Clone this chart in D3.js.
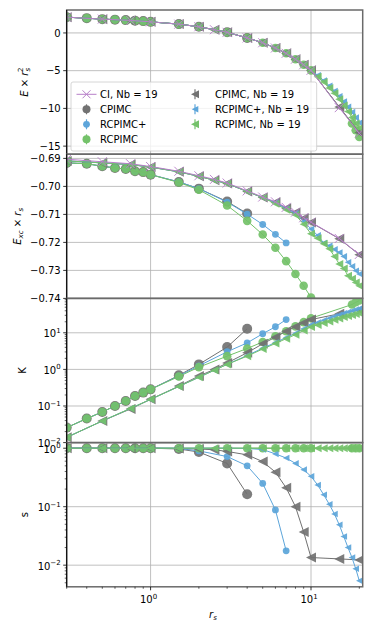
<!DOCTYPE html>
<html>
<head>
<meta charset="utf-8">
<script src="https://cdn.jsdelivr.net/npm/d3@7"></script>
<style>
body{margin:0;background:#fff;}
text{font-family:"DejaVu Sans",sans-serif;font-size:10px;fill:#000;}
</style>
</head>
<body>
<div id="chart"></div>
<script>
// x positions (r_s)
var xCI = [0.3,0.5,0.75,1,1.5,2,2.5,3,4,5,6,7,8,9,10,15,20];
var xCP = [0.3,0.4,0.5,0.6,0.7,0.8,0.9,1,1.5,2,3,4];
var xRCp = [0.3,0.4,0.5,0.6,0.7,0.8,0.9,1,1.5,2,3,4,5,6,7];
var xRC = [0.3,0.4,0.5,0.6,0.7,0.8,0.9,1,1.5,2,3,4,5,6,7,8,9,10,18,19,20];
var xCPnb = [0.3,0.5,0.75,1,1.5,2,2.5,3,4,5,6,7,8,9,10,15,20];
var xRCnb = [0.3,0.5,0.75,1,1.5,2,2.5,3,4,5,6,7,8,9,10,11,12,13,14,15,16,17,18,19,20];

// E x rs^2
var eCI = [2.09,1.83,1.66,1.47,1.17,0.82,0.43,0.08,-0.66,-1.3,-2.0,-2.7,-3.48,-4.22,-4.96,-9.9,-13.3];
var eCP = [2.09,1.96,1.83,1.76,1.7,1.63,1.57,1.47,1.17,0.82,0.08,-0.66];
var eRCp = [2.09,1.96,1.83,1.76,1.7,1.63,1.57,1.47,1.17,0.82,0.08,-0.66,-1.3,-2.0,-2.7];
var eRC = [2.09,1.96,1.83,1.76,1.7,1.63,1.57,1.47,1.17,0.82,0.08,-0.66,-1.3,-2.0,-2.7,-3.48,-4.22,-4.96,-12.0,-12.9,-13.8];
var eCPnb = [2.09,1.83,1.66,1.47,1.17,0.82,0.43,0.08,-0.66,-1.3,-2.0,-2.7,-3.48,-4.22,-4.96,-9.8,-13.2];
var eRCpnb = [2.09,1.83,1.66,1.47,1.17,0.82,0.43,0.08,-0.66,-1.3,-2.0,-2.7,-3.48,-4.22,-4.96,-5.6,-6.3,-7.0,-7.7,-8.4,-9.1,-9.8,-10.5,-11.2,-11.9];
var eRCnb = [2.09,1.83,1.66,1.47,1.17,0.82,0.43,0.08,-0.66,-1.3,-2.0,-2.7,-3.48,-4.22,-4.96,-5.8,-6.5,-7.3,-8.0,-8.8,-9.6,-10.4,-11.2,-12.0,-12.6];

// Exc x rs
var excCI = [-0.6903,-0.6912,-0.6919,-0.6929,-0.6946,-0.6962,-0.6975,-0.6988,-0.7016,-0.7038,-0.7055,-0.7075,-0.7092,-0.7112,-0.7128,-0.7186,-0.7243];
var excCP = [-0.6916,-0.6919,-0.6928,-0.6934,-0.6938,-0.6946,-0.6949,-0.6958,-0.6984,-0.7008,-0.7054,-0.7097];
var excRCp = [-0.6916,-0.6919,-0.6928,-0.6934,-0.6938,-0.6946,-0.6949,-0.6958,-0.6984,-0.7008,-0.7056,-0.7099,-0.7136,-0.7171,-0.7202];
var excRC = [-0.6916,-0.6919,-0.6928,-0.6934,-0.6938,-0.6946,-0.6949,-0.6958,-0.6986,-0.7012,-0.7068,-0.7123,-0.7172,-0.7219,-0.7267,-0.7313,-0.7355,-0.7397,null,null,null];
var excCPnb = [-0.6909,-0.6916,-0.6922,-0.6931,-0.6948,-0.6964,-0.6978,-0.699,-0.7018,-0.704,-0.7057,-0.7078,-0.7093,-0.7114,-0.7129,-0.7187,-0.7244];
var excRCpnb = [-0.6909,-0.6916,-0.6922,-0.6931,-0.6948,-0.6964,-0.6978,-0.699,-0.7018,-0.704,-0.7058,-0.708,-0.7096,-0.7125,-0.7152,-0.7175,-0.7202,-0.7212,-0.7225,-0.7236,-0.725,-0.7271,-0.7285,-0.7301,-0.7313];
var excRCnb = [-0.6909,-0.6916,-0.6922,-0.6931,-0.6948,-0.6964,-0.6978,-0.699,-0.7018,-0.704,-0.7062,-0.7083,-0.7102,-0.7135,-0.7169,-0.7185,-0.7205,-0.7223,-0.725,-0.7277,-0.7293,-0.7319,-0.733,-0.7343,-0.7355];

// K
var kCP = [0.0257,0.0454,0.0687,0.1,0.137,0.1875,0.232,0.285,0.687,1.37,4.06,12.9];
var kRCp = [0.0257,0.0454,0.0687,0.1,0.137,0.1875,0.232,0.285,0.66,1.25,3.03,5.3,9.4,14.6,23];
var kRC = [0.0257,0.0454,0.0687,0.1,0.137,0.1875,0.232,0.285,0.64,1.15,2.3,3.73,5.6,8.0,11,15,19.5,25,59,68,76];
var kCPnb = [0.0139,0.039,0.083,0.152,0.35,0.66,1.0,1.5,2.85,5.0,7.6,11,14.6,18.7,23,33,42];
var kRCpnb = [0.0139,0.039,0.086,0.152,0.34,0.61,0.95,1.37,2.4,3.8,5.4,7.4,9.7,12.8,16.5,19,22,25,28,31,34,37,40,43,46];
var kRCnb = [0.0139,0.039,0.086,0.152,0.34,0.61,0.95,1.37,2.3,3.6,5.1,6.9,8.9,11.5,14.5,16.4,18.6,20.5,22.6,24.5,26.8,28.6,30.6,32.4,34.5];

// s
var sCP = [1,1,1,1,1,1,1,1,0.97,0.86,0.55,0.163];
var sRCp = [1,1,1,1,1,1,1,1,0.99,0.9,0.72,0.5,0.25,0.088,0.0176];
var sRC = [1,1,1,1,1,1,1,1,1,1,1,1,1,1,1,1,1,1,1,1,1];
var sCPnb = [1,1,1,1,0.99,0.97,0.94,0.88,0.77,0.59,0.39,0.21,0.1,0.037,0.0135,0.0128,0.0123];
var sRCpnb = [1,1,1,1,1,1,1,1,0.99,0.95,0.8,0.68,0.55,0.43,0.33,0.235,0.16,0.11,0.075,0.049,0.031,0.02,0.0135,0.0087,0.0054];
var sRCnb = [1,1,1,1,1,1,1,1,1,1,1,1,1,1,1,1,1,1,1,1,1,1,1,1,1];

var gray = "#727272", blue = "#5da5da", green = "#74c26a", purple = "#b77fc9";

// legend order; z is the drawing order (CI sits on top)
var series = [
	{name:"CI, Nb = 19", color:purple, marker:"x", size:4.5, z:7, x:xCI, e:eCI, exc:excCI},
	{name:"CPIMC", color:gray, marker:"o", size:5, z:1, x:xCP, e:eCP, exc:excCP, k:kCP, s:sCP},
	{name:"RCPIMC+", color:blue, marker:"o", size:3.4, z:2, x:xRCp, e:eRCp, exc:excRCp, k:kRCp, s:sRCp},
	{name:"RCPIMC", color:green, marker:"o", size:4.3, z:3, x:xRC, e:eRC, exc:excRC, k:kRC, s:sRC},
	{name:"CPIMC, Nb = 19", color:gray, marker:"<", size:5, z:4, x:xCPnb, e:eCPnb, exc:excCPnb, k:kCPnb, s:sCPnb},
	{name:"RCPIMC+, Nb = 19", color:blue, marker:"<", size:3.3, z:5, x:xRCnb, e:eRCpnb, exc:excRCpnb, k:kRCpnb, s:sRCpnb},
	{name:"RCPIMC, Nb = 19", color:green, marker:"<", size:4, z:6, x:xRCnb, e:eRCnb, exc:excRCnb, k:kRCnb, s:sRCnb}
];

var W = 374, H = 635;
var left = 66.7, right = 362.7, top0 = 10, ph = 144.2;

var svg = d3.select("#chart").append("svg").attr("width", W).attr("height", H);

var x = d3.scaleLog().domain([0.3, 21]).range([left, right]);

var panels = [
	{key:"e", y:d3.scaleLinear().domain([-16.07, 3.04]), ticks:[-15,-10,-5,0], fmt:d3.format("d")},
	{key:"exc", y:d3.scaleLinear().domain([-0.74, -0.6885]), ticks:[-0.74,-0.73,-0.72,-0.71,-0.70,-0.69], fmt:d3.format(".2f")},
	{key:"k", y:d3.scaleLog().domain([0.01, 87]), ticks:[0.01,0.1,1,10], log:true},
	{key:"s", y:d3.scaleLog().domain([Math.pow(10,-2.37), Math.pow(10,0.096)]), ticks:[0.01,0.1,1], log:true}
];

function drawMarker(g, type, cx, cy, sz, color){
	if (type == "o"){
		g.append("circle").attr("cx", cx).attr("cy", cy).attr("r", sz).attr("fill", color);
	} else if (type == "<"){
		g.append("path")
			.attr("d", "M" + (cx - sz) + "," + cy + "L" + (cx + sz) + "," + (cy - sz) + "L" + (cx + sz) + "," + (cy + sz) + "Z")
			.attr("fill", color);
	} else {
		g.append("path")
			.attr("d", "M" + (cx - sz) + "," + (cy - sz) + "L" + (cx + sz) + "," + (cy + sz) + "M" + (cx - sz) + "," + (cy + sz) + "L" + (cx + sz) + "," + (cy - sz))
			.attr("stroke", color).attr("stroke-width", 1).attr("fill", "none");
	}
}

function logLabel(g, v, px, py, anchor){
	var t = g.append("text").attr("x", px).attr("y", py).attr("text-anchor", anchor);
	t.append("tspan").text("10");
	t.append("tspan").attr("dy", -4.5).style("font-size", "7px").text(d3.format("d")(Math.round(Math.log10(v))));
}

var drawOrder = series.slice().sort(function(a, b){ return a.z - b.z; });

panels.forEach(function(p, i){
	var y0 = top0 + i * ph, y1 = top0 + (i + 1) * ph;
	p.y.range([y1, y0]);
	var g = svg.append("g");

	// grid
	p.ticks.forEach(function(t){
		g.append("line").attr("x1", left).attr("x2", right).attr("y1", p.y(t)).attr("y2", p.y(t))
			.attr("stroke", "#b0b0b0").attr("stroke-width", 0.8);
	});
	[1, 10].forEach(function(t){
		g.append("line").attr("x1", x(t)).attr("x2", x(t)).attr("y1", y0).attr("y2", y1)
			.attr("stroke", "#b0b0b0").attr("stroke-width", 0.8);
	});

	// clip to the panel
	svg.append("clipPath").attr("id", "clip" + i).append("rect")
		.attr("x", left).attr("y", y0).attr("width", right - left).attr("height", y1 - y0);
	var plot = g.append("g").attr("clip-path", "url(#clip" + i + ")");

	drawOrder.forEach(function(s){
		if (!s[p.key]) return;
		var pts = s.x.map(function(xv, j){ return [xv, s[p.key][j]]; })
			.filter(function(d){ return d[1] !== null; });
		var line = d3.line().x(function(d){ return x(d[0]); }).y(function(d){ return p.y(d[1]); });
		plot.append("path").attr("d", line(pts)).attr("fill", "none")
			.attr("stroke", s.color).attr("stroke-width", 1);
		var mg = plot.append("g").attr("opacity", 0.92);
		pts.forEach(function(d){
			drawMarker(mg, s.marker, x(d[0]), p.y(d[1]), s.size, s.color);
		});
	});

	// frame
	g.append("rect").attr("x", left).attr("y", y0).attr("width", right - left).attr("height", y1 - y0)
		.attr("fill", "none").attr("stroke", "#6a6a6a").attr("stroke-width", 1.5);
	g.append("line").attr("x1", left).attr("x2", left).attr("y1", y0).attr("y2", y1)
		.attr("stroke", "#000").attr("stroke-width", 1);

	// y ticks
	p.ticks.forEach(function(t){
		g.append("line").attr("x1", left - 3.5).attr("x2", left).attr("y1", p.y(t)).attr("y2", p.y(t))
			.attr("stroke", "#000").attr("stroke-width", 0.8);
		if (p.log){
			logLabel(g, t, left - 6, p.y(t) + 4.5, "end");
		} else {
			g.append("text").attr("x", left - 6).attr("y", p.y(t) + 3.6).attr("text-anchor", "end").text(p.fmt(t));
		}
	});
	if (p.log){
		var dom = p.y.domain();
		for (var e = -3; e <= 2; e++){
			for (var m = 2; m <= 9; m++){
				var v = m * Math.pow(10, e);
				if (v < dom[0] || v > dom[1]) continue;
				g.append("line").attr("x1", left - 2).attr("x2", left).attr("y1", p.y(v)).attr("y2", p.y(v))
					.attr("stroke", "#000").attr("stroke-width", 0.6);
			}
		}
	}
});

// bottom x axis
var yb = top0 + 4 * ph;
var xg = svg.append("g");
[0.3,0.4,0.5,0.6,0.7,0.8,0.9,2,3,4,5,6,7,8,9,20].forEach(function(v){
	xg.append("line").attr("x1", x(v)).attr("x2", x(v)).attr("y1", yb).attr("y2", yb + 2)
		.attr("stroke", "#000").attr("stroke-width", 0.6);
});
[1, 10].forEach(function(v){
	xg.append("line").attr("x1", x(v)).attr("x2", x(v)).attr("y1", yb).attr("y2", yb + 3.5)
		.attr("stroke", "#000").attr("stroke-width", 0.8);
	logLabel(xg, v, x(v) - 2, yb + 16.5, "middle");
});

// axis labels
var lab = svg.append("text").attr("x", 213).attr("y", 618).attr("text-anchor", "middle");
lab.append("tspan").style("font-style", "italic").text("r");
lab.append("tspan").attr("dy", 2).style("font-size", "7px").style("font-style", "italic").text("s");

function yLabel(cx, cy, build){
	var t = svg.append("text").attr("transform", "translate(" + cx + "," + cy + ") rotate(-90)").attr("text-anchor", "middle");
	build(t);
}
yLabel(28, top0 + ph / 2, function(t){
	t.append("tspan").style("font-style", "italic").text("E");
	t.append("tspan").text(" \u00d7 ");
	t.append("tspan").style("font-style", "italic").text("r");
	t.append("tspan").attr("dy", 2).style("font-size", "7px").style("font-style", "italic").text("s");
	t.append("tspan").attr("dy", -7).attr("dx", -4).style("font-size", "7px").text("2");
});
yLabel(21, top0 + 1.5 * ph, function(t){
	t.append("tspan").style("font-style", "italic").text("E");
	t.append("tspan").attr("dy", 2).style("font-size", "7px").style("font-style", "italic").text("xc");
	t.append("tspan").attr("dy", -2).text(" \u00d7 ");
	t.append("tspan").style("font-style", "italic").text("r");
	t.append("tspan").attr("dy", 2).style("font-size", "7px").style("font-style", "italic").text("s");
});
yLabel(26, top0 + 2.5 * ph, function(t){ t.text("K"); });
yLabel(28, top0 + 3.5 * ph, function(t){ t.text("s"); });

// legend
var lg = svg.append("g");
lg.append("rect").attr("x", 71).attr("y", 82).attr("width", 245.7).attr("height", 69).attr("rx", 2)
	.attr("fill", "#fff").attr("fill-opacity", 0.8).attr("stroke", "#cccccc").attr("stroke-width", 0.8);
series.forEach(function(s, i){
	var col = i < 4 ? 0 : 1, row = i < 4 ? i : i - 4;
	var hx = col == 0 ? 86.5 : 195, tx = col == 0 ? 100 : 215, hy = 94.3 + row * 15;
	if (s.marker == "x"){
		lg.append("line").attr("x1", hx - 10).attr("x2", hx + 10).attr("y1", hy).attr("y2", hy)
			.attr("stroke", s.color).attr("stroke-width", 1);
	} else {
		lg.append("line").attr("x1", hx).attr("x2", hx).attr("y1", hy - 5).attr("y2", hy + 5)
			.attr("stroke", s.color).attr("stroke-width", 1.2);
	}
	drawMarker(lg, s.marker, hx, hy, Math.min(s.size, 4), s.color);
	lg.append("text").attr("x", tx).attr("y", hy + 3.6).text(s.name);
});
</script>
</body>
</html>
